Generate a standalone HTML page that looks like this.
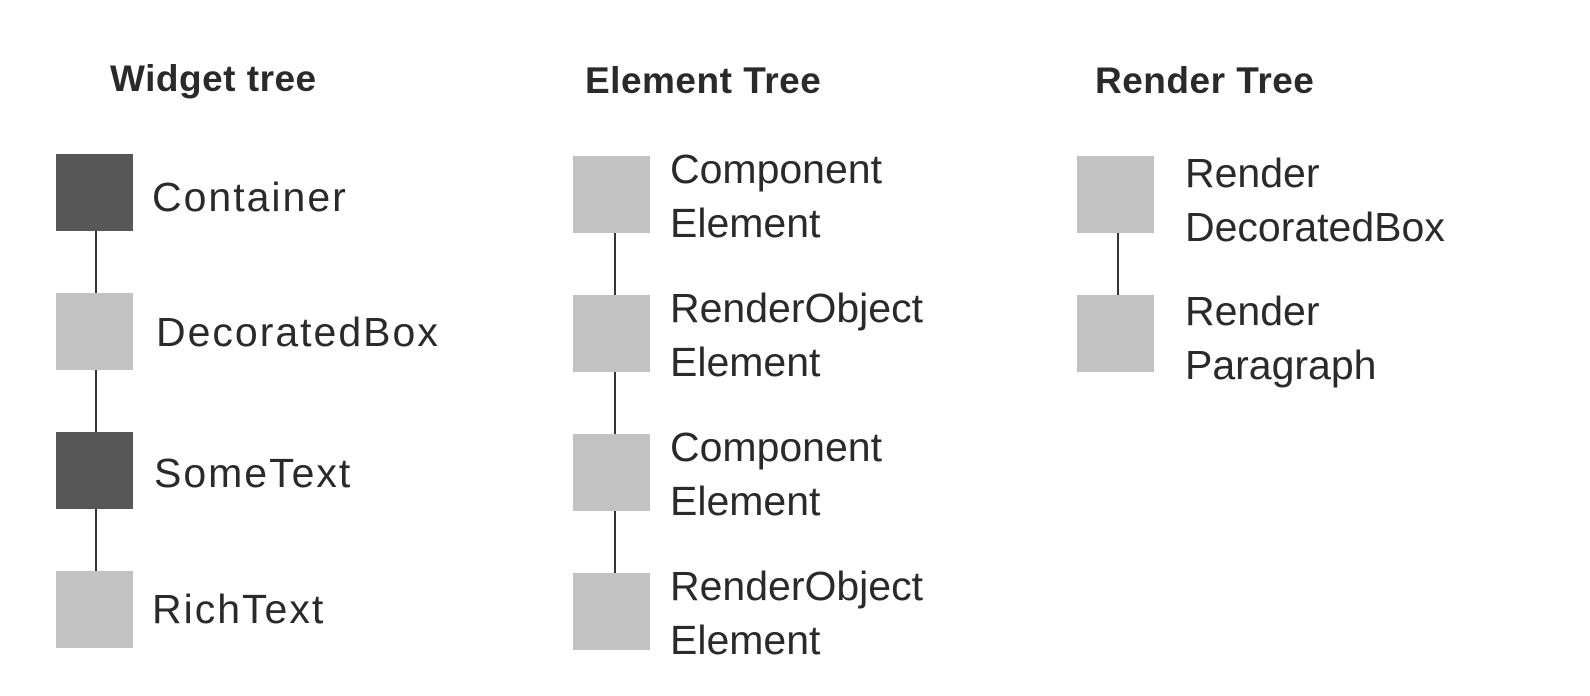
<!DOCTYPE html>
<html><head><style>
body{margin:0;width:1590px;height:696px;background:#fff;position:relative;overflow:hidden;font-family:"Liberation Sans",sans-serif;color:#2a2a2a}
.b{position:absolute;width:77px;height:77px;background:#c2c2c2}
.d{background:#575757}
.l{position:absolute;width:2px;background:#333}
.t{position:absolute;font-weight:bold;font-size:37px;letter-spacing:0.5px;color:#2a2a2a;line-height:1}
.x{position:absolute;font-size:41px;line-height:54px;color:#2a2a2a;white-space:nowrap}
.w{letter-spacing:2px}
</style></head><body>
<div class="t" style="left:110px;top:60px">Widget tree</div>
<div class="t" style="left:585px;top:62px">Element Tree</div>
<div class="t" style="left:1095px;top:62px">Render Tree</div>

<div class="l" style="left:95px;top:230px;height:360px"></div>
<div class="b d" style="left:56px;top:154px"></div>
<div class="b" style="left:56px;top:293px"></div>
<div class="b d" style="left:56px;top:432px"></div>
<div class="b" style="left:56px;top:571px"></div>
<div class="x w" style="left:152px;top:170px">Container</div>
<div class="x w" style="left:156px;top:305px">DecoratedBox</div>
<div class="x w" style="left:154px;top:446px">SomeText</div>
<div class="x w" style="left:152px;top:582px">RichText</div>

<div class="l" style="left:614px;top:232px;height:360px"></div>
<div class="b" style="left:573px;top:156px"></div>
<div class="b" style="left:573px;top:295px"></div>
<div class="b" style="left:573px;top:434px"></div>
<div class="b" style="left:573px;top:573px"></div>
<div class="x" style="left:670px;top:142px">Component<br>Element</div>
<div class="x" style="left:670px;top:281px">RenderObject<br>Element</div>
<div class="x" style="left:670px;top:420px">Component<br>Element</div>
<div class="x" style="left:670px;top:559px">RenderObject<br>Element</div>

<div class="l" style="left:1117px;top:232px;height:65px"></div>
<div class="b" style="left:1077px;top:156px"></div>
<div class="b" style="left:1077px;top:295px"></div>
<div class="x" style="left:1185px;top:146px">Render<br>DecoratedBox</div>
<div class="x" style="left:1185px;top:284px">Render<br>Paragraph</div>
</body></html>
